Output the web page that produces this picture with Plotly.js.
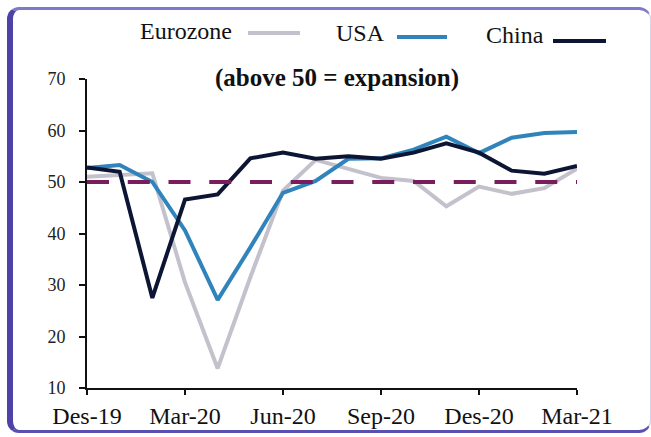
<!DOCTYPE html>
<html>
<head>
<meta charset="utf-8">
<script src="https://cdn.plot.ly/plotly-3.0.1.min.js"></script>
<style>
  html, body { margin:0; padding:0; background:#ffffff; }
  #wrap { position:relative; width:651px; height:437px; overflow:hidden; background:#ffffff; }
  #frame { position:absolute; left:7px; top:7px; width:637px; height:420px;
           border-left:6px solid #4c42a8; border-top:3px solid #7f79c9;
           border-bottom:3px solid #5a50b4; border-right:1px solid #d6d3ef;
           border-radius:12px; box-sizing:content-box; }
  #chart { position:absolute; left:0; top:0; width:651px; height:437px; }
</style>
</head>
<body>
<div id="wrap"><div id="frame"></div><div id="chart"></div></div>
<script>
// ---- data ----
const months = ['Dec-19','Jan-20','Feb-20','Mar-20','Apr-20','May-20','Jun-20','Jul-20',
                'Aug-20','Sep-20','Oct-20','Nov-20','Dec-20','Jan-21','Feb-21','Mar-21'];
const eurozone = [51.0, 51.4, 51.7, 30.5, 13.8, 31.5, 48.3, 54.3, 52.5, 50.8, 50.2, 45.3, 49.1, 47.7, 48.8, 52.6];
const usa      = [52.7, 53.3, 50.0, 40.6, 27.1, 37.3, 47.9, 50.2, 54.5, 54.6, 56.3, 58.8, 55.6, 58.6, 59.5, 59.7];
const china    = [52.8, 52.0, 27.5, 46.6, 47.6, 54.6, 55.7, 54.5, 55.0, 54.5, 55.7, 57.5, 55.7, 52.2, 51.6, 53.1];
const threshold = [50, 50, 50, 50, 50, 50, 50, 50, 50, 50, 50, 50, 50, 50, 50, 50];
const tickMonths = ['Dec-19','Mar-20','Jun-20','Sep-20','Dec-20','Mar-21'];
const tickLabels = ['Des-19','Mar-20','Jun-20','Sep-20','Des-20','Mar-21'];
const yTicks = [10, 20, 30, 40, 50, 60, 70];
const seriesNames = ['Eurozone', 'USA', 'China'];
const titleText = '(above 50 = expansion)';

const SERIF = 'Liberation Serif';
const colors = ['#c3c1cb', '#3084bb', '#0c1634'];

const traces = [
  {x: months, y: eurozone, name: seriesNames[0], mode: 'lines', line: {color: colors[0], width: 4}},
  {x: months, y: usa, name: seriesNames[1], mode: 'lines', line: {color: colors[1], width: 4}},
  {x: months, y: china, name: seriesNames[2], mode: 'lines', line: {color: colors[2], width: 4}},
  {x: months, y: threshold, name: '50', mode: 'lines', line: {color: '#7a1d5c', width: 4, dash: '22px,18.75px'}}
];

// legend (text followed by sample line), built from the series names
const W = 490, H = 309, L = 87, T = 79;
const px = v => (v - L) / W;
const py = v => (T + H - v) / H;
const legendTextRight = [234, 387, 546];
const legendTextMid = [31, 33, 35];
const legendLine = [[248, 300, 33], [397, 447, 37], [553, 606, 41]];
const annotations = seriesNames.map((n, i) => ({
  xref: 'paper', yref: 'paper', x: px(legendTextRight[i]), y: py(legendTextMid[i]),
  xanchor: 'right', yanchor: 'middle', showarrow: false, text: n,
  font: {family: SERIF, size: 24, color: '#111'}
}));
const shapes = legendLine.map((l, i) => ({
  type: 'line', xref: 'paper', yref: 'paper',
  x0: px(l[0]), x1: px(l[1]), y0: py(l[2]), y1: py(l[2]),
  line: {color: colors[i], width: 4}
}));

const layout = {
  width: 651, height: 437, autosize: false,
  font: {family: SERIF, color: '#111'},
  margin: {l: 87, r: 74, t: 79, b: 49, pad: 0},
  paper_bgcolor: 'rgba(0,0,0,0)', plot_bgcolor: 'rgba(0,0,0,0)',
  showlegend: false,
  title: {text: titleText, xref: 'container', yref: 'container',
          x: 337 / 651, y: 1 - 77 / 437, xanchor: 'center', yanchor: 'middle',
          font: {family: SERIF, size: 25, color: '#111', weight: 'bold'}},
  xaxis: {type: 'category', range: [0, 15], showgrid: false, zeroline: false,
          showline: true, linecolor: '#111', linewidth: 2,
          ticks: 'outside', ticklen: 5, tickwidth: 2, tickcolor: '#111',
          tickvals: tickMonths, ticktext: tickLabels,
          tickfont: {family: SERIF, size: 24, color: '#111'}},
  yaxis: {range: [10, 70], showgrid: false, zeroline: false,
          showline: true, linecolor: '#111', linewidth: 2,
          ticks: 'outside', ticklen: 6, tickwidth: 2, tickcolor: '#111',
          tickvals: yTicks, ticklabelstandoff: 10,
          tickfont: {family: SERIF, size: 18, color: '#222'}},
  annotations: annotations,
  shapes: shapes
};

Plotly.newPlot('chart', traces, layout, {displayModeBar: false, staticPlot: true});
</script>
</body>
</html>
